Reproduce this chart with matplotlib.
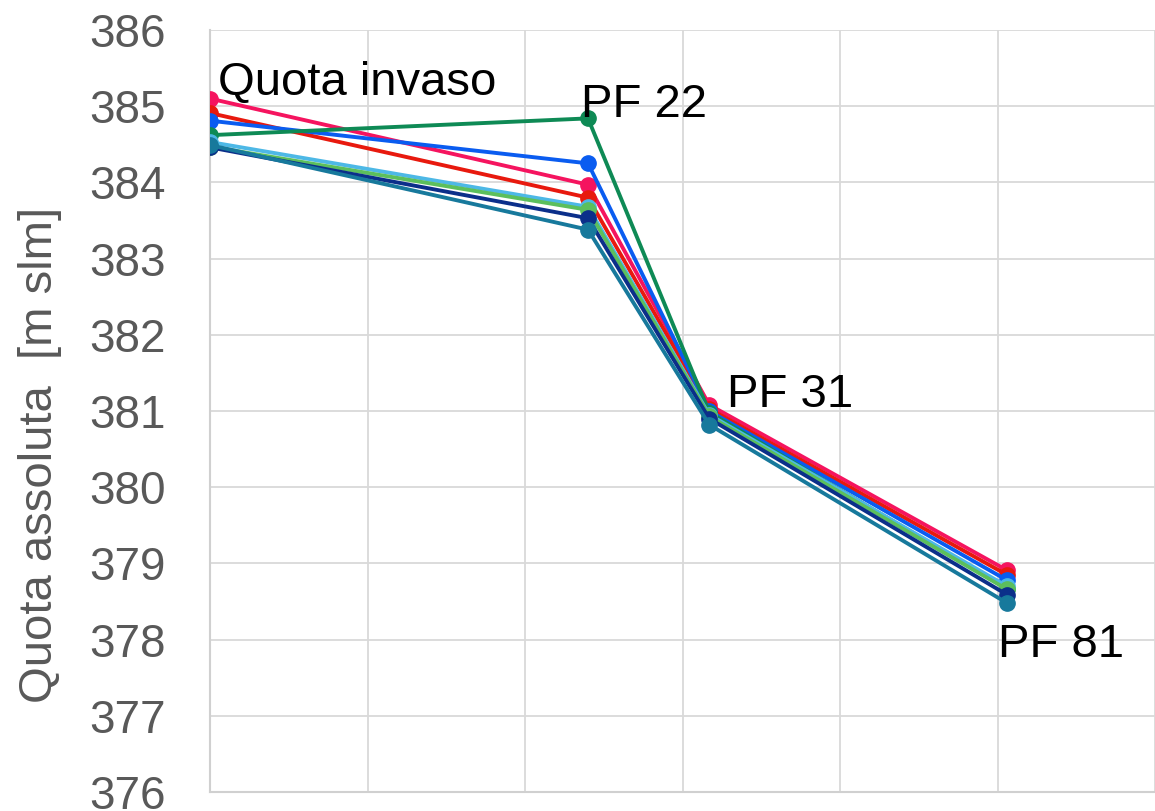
import matplotlib.pyplot as plt
import numpy as np

# posizioni lungo il profilo (stessa scala della griglia verticale)
pos = [0.0, 2.40, 3.17, 5.06]
etichette = ['Quota invaso', 'PF 22', 'PF 31', 'PF 81']

# quote misurate per ciascuna serie [m slm]
s_rosa = [385.10, 383.97, 381.08, 378.91]
s_rosso = [384.91, 383.80, 381.03, 378.85]
s_blu = [384.81, 384.25, 381.00, 378.78]
s_verde = [384.62, 384.84, 380.98, 378.67]
s_azzurro = [384.53, 383.68, 380.95, 378.70]
s_verdechiaro = [384.47, 383.64, 380.93, 378.66]
s_navy = [384.46, 383.53, 380.90, 378.59]
s_petrolio = [384.49, 383.38, 380.82, 378.48]

serie = [s_rosa, s_rosso, s_blu, s_verde, s_azzurro, s_verdechiaro, s_navy, s_petrolio]
colori = ['#F5145F', '#E8190E', '#0A5CF0', '#0E8A55', '#4DB8E6', '#5CBF5C', '#0B2F8A', '#17799C']

plt.rcParams['font.family'] = ['Liberation Sans', 'DejaVu Sans']

fig = plt.figure(figsize=(11.55, 8.11), dpi=100)
ax = fig.add_axes([210/1155, 1-792/811, 1-210/1155, (792-30)/811])

for s, c in zip(serie, colori):
    ax.plot(pos, s, '-o', color=c, lw=2.8, ms=11, zorder=3)

# etichette dei punti (posizione della linea di base)
ax.text(0.05, 385.15, etichette[0], fontsize=34, va='baseline', ha='left', zorder=4)
ax.text(2.355, 384.86, etichette[1], fontsize=34, va='baseline', ha='left', zorder=4)
ax.text(3.28, 381.05, etichette[2], fontsize=34, va='baseline', ha='left', zorder=4)
ax.text(5.006, 377.77, etichette[3], fontsize=34, va='baseline', ha='left', zorder=4)

ax.set_ylim(376, 386)
ax.set_yticks(range(376, 387))
ax.set_xlim(0, (1155-210)/158.4)
ax.set_xticks(np.arange(0, 6.5, 1))
ax.tick_params(axis='x', labelbottom=False, length=0)
ax.tick_params(axis='y', length=0, pad=32, labelsize=33, labelcolor='#595959')
ax.grid(True, color='#D9D9D9', lw=1.3)
ax.set_axisbelow(True)
for k in ['top', 'right']:
    ax.spines[k].set_visible(False)
for k in ['left', 'bottom']:
    ax.spines[k].set_color('#D0D0D0')
    ax.spines[k].set_linewidth(1.5)

fig.text(40/1155, 1-455/811, 'Quota assoluta  [m slm]', rotation=90,
         va='center', ha='center', fontsize=34, color='#595959')

plt.savefig('out.png', dpi=100)
